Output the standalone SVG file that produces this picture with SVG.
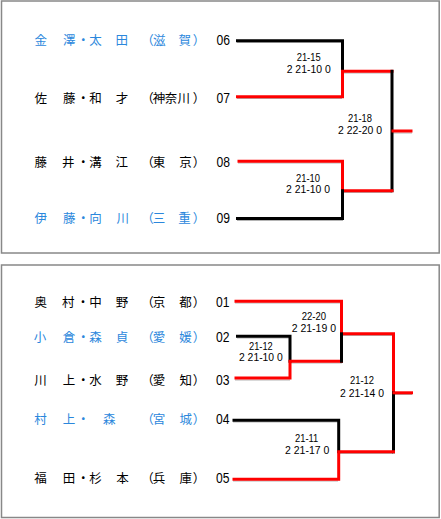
<svg xmlns="http://www.w3.org/2000/svg" width="441" height="519" viewBox="0 0 441 519">
<style>
.box{fill:#fff;stroke:#888;stroke-width:1.5}
.nm{font-family:"Noto Sans CJK JP","Noto Sans CJK SC",sans-serif;font-size:12.5px;text-anchor:middle}
.blk{fill:#000}
.blu{fill:#2b87dc}
.no{font-family:"Liberation Sans",Arial,sans-serif;font-size:14px;fill:#000}
.sc{font-family:"Liberation Sans",Arial,sans-serif;font-size:11px;fill:#000}
.k{stroke:#000;stroke-width:3;fill:none;stroke-linecap:square}
.r{stroke:#f00;stroke-width:3;fill:none;stroke-linecap:square}
.sh{stroke:#b4b4b4;stroke-width:1;fill:none}
</style>
<rect class="box" x="1.5" y="1" width="437.7" height="252"/>
<rect class="box" x="1.5" y="265" width="437.7" height="252.5"/>

<g id="p06"><text class="nm blu" y="45.2" x="40.8 55 69.2 83.3 95.5 108.5 121.8 135 147.5 159.2 172 184.7 199">金　澤・太　田　（滋　賀）</text><text class="no" x="216.5" y="45" textLength="13.5" lengthAdjust="spacingAndGlyphs">06</text></g>
<g id="p07"><text class="nm blk" y="103" x="40.8 55 69.2 83.3 95.5 108.5 122 135 147.5 159 171 183.8 199">佐　藤・和　才　（神奈川）</text><text class="no" x="216.5" y="102.8" textLength="13.5" lengthAdjust="spacingAndGlyphs">07</text></g>
<g id="p08"><text class="nm blk" y="166.7" x="40.8 55 68.3 83.3 95.5 108.5 121.8 135 147.5 159 172 185.5 199">藤　井・溝　江　（東　京）</text><text class="no" x="216.5" y="166.5" textLength="13.5" lengthAdjust="spacingAndGlyphs">08</text></g>
<g id="p09"><text class="nm blu" y="223.2" x="40.8 55 69.2 83.3 95.5 108.5 122.8 135 147.5 159 172 184.5 199">伊　藤・向　川　（三　重）</text><text class="no" x="216.5" y="223" textLength="13.5" lengthAdjust="spacingAndGlyphs">09</text></g>

<g id="p01"><text class="nm blk" y="306.7" x="40.8 55 68.3 83 95.5 108.5 122 135 147.5 159 172 185.5 199">奥　村・中　野　（京　都）</text><text class="no" x="216" y="306.5" textLength="13.5" lengthAdjust="spacingAndGlyphs">01</text></g>
<g id="p02"><text class="nm blu" y="341.7" x="40 55 69 83.3 95.5 108.5 122 135 147.5 159 172 185.5 199">小　倉・森　貞　（愛　媛）</text><text class="no" x="216" y="341.5" textLength="13.5" lengthAdjust="spacingAndGlyphs">02</text></g>
<g id="p03"><text class="nm blk" y="385.2" x="40.5 55 69 83.3 95.5 108.5 122 135 147.5 159 172 185.8 199">川　上・水　野　（愛　知）</text><text class="no" x="216" y="385" textLength="13.5" lengthAdjust="spacingAndGlyphs">03</text></g>
<g id="p04"><text class="nm blu" y="424.2" x="40.5 55 69 83.3 96 109.2 128 147.5 159 172 185.8 199">村　上・　森　（宮　城）</text><text class="no" x="216" y="424" textLength="13.5" lengthAdjust="spacingAndGlyphs">04</text></g>
<g id="p05"><text class="nm blk" y="483.2" x="40.5 55 69 83.3 95.5 108.5 122.5 135 147.5 159 172 185.8 199">福　田・杉　本　（兵　庫）</text><text class="no" x="216" y="483" textLength="13.5" lengthAdjust="spacingAndGlyphs">05</text></g>

<g id="connectors">
<g id="shadows">
<path class="sh" d="M237 42.5H343M237 98.5H342M343 73H392M392 133H412M238 163H342M343 192.5H392M237 220.5H343"/>
<path class="sh" d="M235 303H342M342 335.5H393M237 338H290M290 363H342M235 380H290M393 394.5H412M233 422H338M338 453.5H393M233 481H338"/>
</g>
<path class="k" d="M237.5 40.7H342.5V71.3"/>
<path class="r" d="M237.5 96.8H342.5V71.3H392"/>
<path class="k" d="M392 71.3V190.7"/>
<path class="r" d="M393 131H411"/>
<path class="r" d="M239 161.2H342.5V190.7H392"/>
<path class="k" d="M237.5 218.4H342.5V190.7"/>

<path class="r" d="M236 301.3H341.5V333.8H393.5V392.8"/>
<path class="k" d="M393.5 392.8V451.8"/>
<path class="r" d="M394 392.8H411.5"/>
<path class="k" d="M237.5 336.2H290V361.2"/>
<path class="r" d="M236 378H290V361.2H341.5"/>
<path class="k" d="M341.5 333.8V361.2"/>
<path class="k" d="M234 420.2H338.7V451.8"/>
<path class="r" d="M234 479.3H338.7V451.8H393.5"/>
</g>

<g id="scores">
<text class="sc" x="296.7" y="60.8" textLength="24" lengthAdjust="spacingAndGlyphs">21-15</text>
<text class="sc" x="286.7" y="73.2" textLength="44" lengthAdjust="spacingAndGlyphs">2 21-10 0</text>
<text class="sc" x="348" y="122" textLength="24" lengthAdjust="spacingAndGlyphs">21-18</text>
<text class="sc" x="338" y="134.2" textLength="44" lengthAdjust="spacingAndGlyphs">2 22-20 0</text>
<text class="sc" x="296" y="181.8" textLength="24" lengthAdjust="spacingAndGlyphs">21-10</text>
<text class="sc" x="286" y="193.3" textLength="44" lengthAdjust="spacingAndGlyphs">2 21-10 0</text>

<text class="sc" x="301.7" y="320" textLength="24.3" lengthAdjust="spacingAndGlyphs">22-20</text>
<text class="sc" x="291.7" y="332.3" textLength="44.3" lengthAdjust="spacingAndGlyphs">2 21-19 0</text>
<text class="sc" x="249" y="349.5" textLength="23.7" lengthAdjust="spacingAndGlyphs">21-12</text>
<text class="sc" x="239" y="361" textLength="43.7" lengthAdjust="spacingAndGlyphs">2 21-10 0</text>
<text class="sc" x="350" y="384.3" textLength="24" lengthAdjust="spacingAndGlyphs">21-12</text>
<text class="sc" x="340" y="397.3" textLength="44" lengthAdjust="spacingAndGlyphs">2 21-14 0</text>
<text class="sc" x="295" y="442.3" textLength="23.3" lengthAdjust="spacingAndGlyphs">21-11</text>
<text class="sc" x="285" y="454.3" textLength="44.3" lengthAdjust="spacingAndGlyphs">2 21-17 0</text>
</g>
</svg>
